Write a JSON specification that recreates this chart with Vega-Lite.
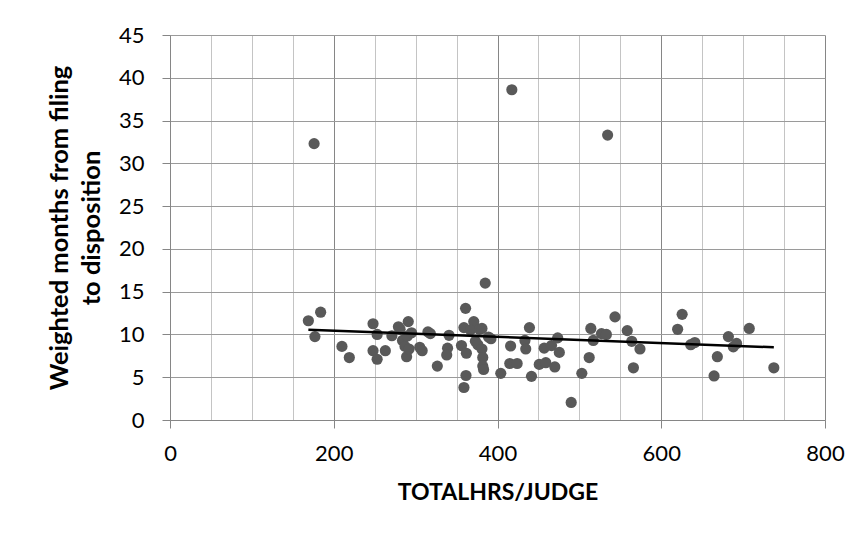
{
  "$schema": "https://vega.github.io/schema/vega-lite/v6.json",
  "width": 655,
  "height": 385,
  "autosize": {"type": "none"},
  "padding": {"left": 170, "top": 35, "right": 39, "bottom": 120},
  "background": "white",
  "config": {"view": {"stroke": null}, "font": "Lato"},
  "data": {"values": [
    {"hrs": 169, "months": 11.6}, {"hrs": 176, "months": 32.3}, {"hrs": 177, "months": 9.75}, {"hrs": 184, "months": 12.6},
    {"hrs": 210, "months": 8.6}, {"hrs": 219, "months": 7.3}, {"hrs": 248, "months": 11.25}, {"hrs": 253, "months": 10.0},
    {"hrs": 248, "months": 8.1}, {"hrs": 263, "months": 8.1}, {"hrs": 253, "months": 7.1}, {"hrs": 271, "months": 9.85},
    {"hrs": 279, "months": 10.9}, {"hrs": 281, "months": 10.6}, {"hrs": 291, "months": 11.5}, {"hrs": 284, "months": 9.3},
    {"hrs": 287, "months": 8.6}, {"hrs": 289, "months": 7.4}, {"hrs": 292, "months": 8.3}, {"hrs": 290, "months": 9.8},
    {"hrs": 295, "months": 10.2}, {"hrs": 305, "months": 8.5}, {"hrs": 308, "months": 8.1}, {"hrs": 315, "months": 10.3},
    {"hrs": 318, "months": 10.1}, {"hrs": 326.5, "months": 6.3}, {"hrs": 340.8, "months": 9.9}, {"hrs": 339, "months": 8.4},
    {"hrs": 338, "months": 7.6}, {"hrs": 361, "months": 13.05}, {"hrs": 359, "months": 10.8}, {"hrs": 356, "months": 8.7},
    {"hrs": 362, "months": 7.8}, {"hrs": 361.5, "months": 5.2}, {"hrs": 359, "months": 3.8}, {"hrs": 371, "months": 11.5},
    {"hrs": 367, "months": 10.5}, {"hrs": 373, "months": 9.2}, {"hrs": 376, "months": 8.8}, {"hrs": 378, "months": 10.6},
    {"hrs": 381, "months": 10.7}, {"hrs": 381, "months": 8.3}, {"hrs": 382, "months": 7.3}, {"hrs": 382, "months": 6.3},
    {"hrs": 383, "months": 5.9}, {"hrs": 389, "months": 9.7}, {"hrs": 392, "months": 9.5}, {"hrs": 385, "months": 16.0},
    {"hrs": 404, "months": 5.45}, {"hrs": 416, "months": 8.65}, {"hrs": 415, "months": 6.6}, {"hrs": 424, "months": 6.6},
    {"hrs": 417.5, "months": 38.6}, {"hrs": 439, "months": 10.8}, {"hrs": 433.5, "months": 9.3}, {"hrs": 434.5, "months": 8.3},
    {"hrs": 441.5, "months": 5.1}, {"hrs": 451, "months": 6.5}, {"hrs": 459, "months": 6.7}, {"hrs": 457, "months": 8.4},
    {"hrs": 466, "months": 8.7}, {"hrs": 470, "months": 6.2}, {"hrs": 473.5, "months": 9.6}, {"hrs": 475.5, "months": 7.9},
    {"hrs": 490, "months": 2.05}, {"hrs": 503, "months": 5.45}, {"hrs": 512, "months": 7.3}, {"hrs": 514, "months": 10.7},
    {"hrs": 517, "months": 9.3}, {"hrs": 527, "months": 10.1}, {"hrs": 533, "months": 10.0}, {"hrs": 534.5, "months": 33.3},
    {"hrs": 543.5, "months": 12.05}, {"hrs": 558.5, "months": 10.45}, {"hrs": 564, "months": 9.2}, {"hrs": 566, "months": 6.1},
    {"hrs": 574, "months": 8.3}, {"hrs": 620, "months": 10.6}, {"hrs": 625.5, "months": 12.35}, {"hrs": 636, "months": 8.8},
    {"hrs": 641, "months": 9.05}, {"hrs": 664.5, "months": 5.15}, {"hrs": 668.5, "months": 7.4}, {"hrs": 682, "months": 9.75},
    {"hrs": 688, "months": 8.55}, {"hrs": 692, "months": 8.95}, {"hrs": 707.5, "months": 10.7}, {"hrs": 737.5, "months": 6.1}
  ]},
  "encoding": {
    "x": {
      "field": "hrs", "type": "quantitative",
      "scale": {"domain": [0, 800], "nice": false, "zero": false},
      "axis": {
        "values": [0, 50, 100, 150, 200, 250, 300, 350, 400, 450, 500, 550, 600, 650, 700, 750, 800],
        "labelExpr": "datum.value % 200 === 0 ? datum.label : ''",
        "labelOverlap": false, "labelFlush": false,
        "grid": true,
        "gridColor": {"condition": {"test": "datum.value % 200 === 0", "value": "#868686"}, "value": "#c4c4c4"},
        "gridWidth": 1,
        "tickOpacity": {"condition": {"test": "datum.value % 200 === 0", "value": 1}, "value": 0},
        "tickColor": "#868686", "tickSize": 8, "domainColor": "#868686",
        "labelFont": "Lato", "labelFontSize": 22, "labelColor": "#000000", "labelPadding": 15,
        "title": "TOTALHRS/JUDGE", "titleFont": "Lato", "titleFontSize": 23, "titleFontWeight": "bold",
        "titleColor": "#000000", "titlePadding": 17
      }
    },
    "y": {
      "field": "months", "type": "quantitative",
      "scale": {"domain": [0, 45], "nice": false},
      "axis": {
        "values": [0, 5, 10, 15, 20, 25, 30, 35, 40, 45],
        "grid": true, "gridColor": "#9a9a9a", "gridWidth": 1,
        "tickColor": "#868686", "tickSize": 8, "domainColor": "#868686",
        "labelFont": "Lato", "labelFontSize": 22, "labelColor": "#000000", "labelPadding": 18,
        "title": ["Weighted months from filing", "to disposition"],
        "titleFont": "Lato", "titleFontSize": 25.5, "titleFontWeight": "bold", "titleColor": "#000000",
        "titleLineHeight": 32, "titlePadding": 14
      }
    }
  },
  "layer": [
    {"mark": {"type": "circle", "size": 125, "color": "#595959", "opacity": 1}},
    {
      "transform": [{"regression": "months", "on": "hrs", "extent": [169, 737.5]}],
      "mark": {"type": "line", "color": "#000000", "strokeWidth": 2.5}
    }
  ]
}
